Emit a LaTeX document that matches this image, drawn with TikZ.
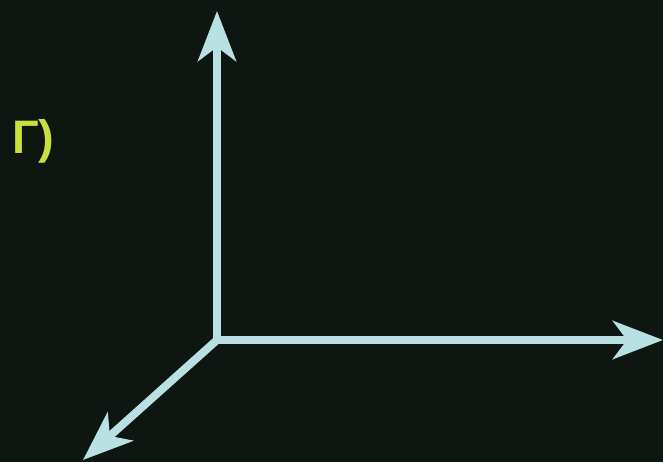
\documentclass[tikz,border=0pt]{standalone}
\usepackage{fontspec}
\setmainfont{Liberation Sans}
\usetikzlibrary{arrows.meta}
\definecolor{bgc}{HTML}{0D1610}
\definecolor{axisc}{HTML}{B9E0E3}
\definecolor{labc}{HTML}{C8E03C}
\tikzset{
  axisline/.style={draw=axisc, line width=8pt, line join=miter,
    -{Stealth[length=50pt, width=38pt, inset=14pt, fill=axisc]}},
  lab/.style={text=labc, font=\bfseries\fontsize{47}{50}\selectfont, inner sep=0pt, anchor=base west}
}
\begin{document}
\begin{tikzpicture}[x=1pt,y=-1pt]
\fill[bgc] (0,0) rectangle (663,462);
\useasboundingbox (0,0) rectangle (663,462);
\coordinate (o) at (217,340);
\coordinate (up) at (217,11);
\coordinate (right) at (663,340);
\coordinate (diag) at (83,460);
\draw[axisline] (o) -- (up);
\draw[axisline] (o) -- (right);
\draw[axisline] (o) -- (diag);
\node[lab] (g) at (12,154) {Г)};
\end{tikzpicture}
\end{document}
